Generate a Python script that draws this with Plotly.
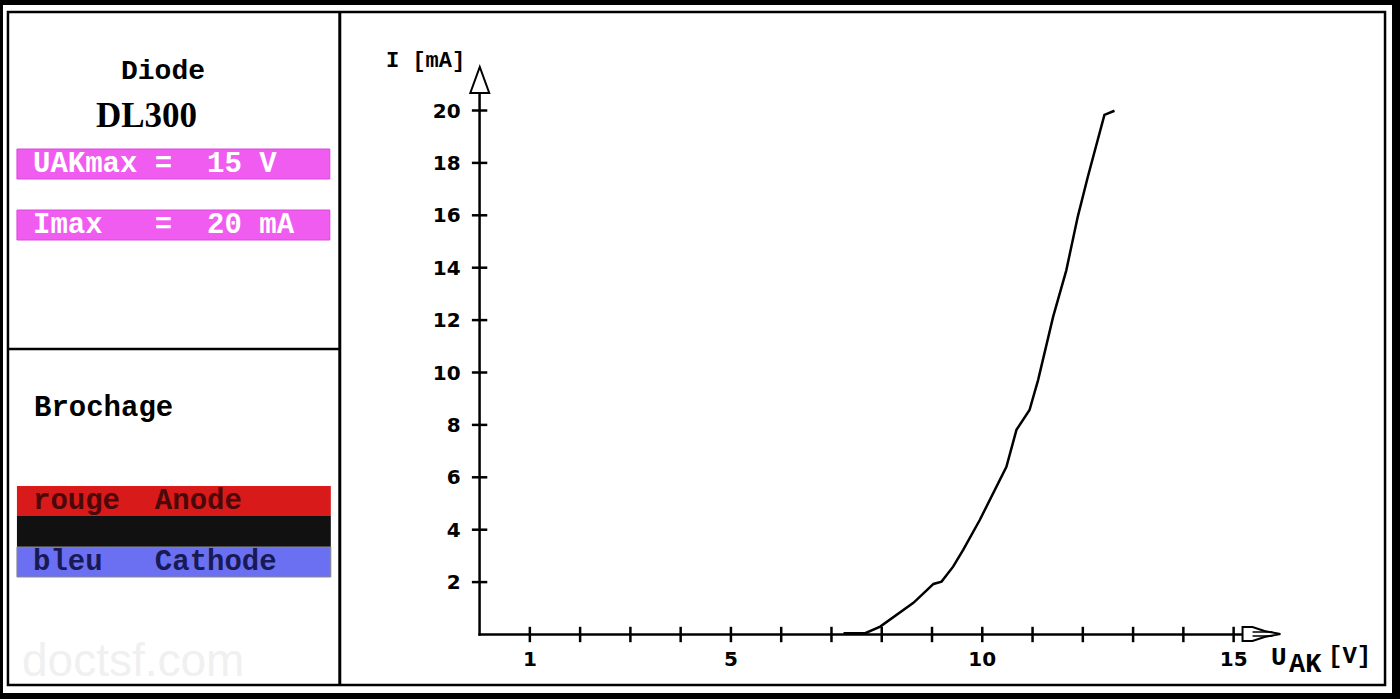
import plotly.graph_objects as go

# ---- data ----
u_ak = [7.24, 7.67, 7.97, 8.30, 8.63, 9.03, 9.19, 9.42, 9.62, 9.95, 10.22, 10.48,
        10.68, 10.94, 11.11, 11.41, 11.67, 11.90, 12.10, 12.30, 12.43, 12.63]
i_ma = [0.05, 0.05, 0.30, 0.74, 1.21, 1.93, 2.02, 2.59, 3.23, 4.37, 5.39, 6.40,
        7.81, 8.57, 9.71, 12.13, 13.89, 15.95, 17.47, 18.87, 19.83, 19.99]

x_tick_vals = [1, 5, 10, 15]
x_tick_text = ["1", "5", "10", "15"]
x_tick_marks = list(range(1, 16))
y_tick_vals = [2, 4, 6, 8, 10, 12, 14, 16, 18, 20]
y_tick_text = ["2", "4", "6", "8", "10", "12", "14", "16", "18", "20"]

# ---- geometry (pixels) ----
W, H = 1400, 699
def X(p): return p / W
def Y(p): return 1 - p / H

X0, XPV = 481.3, 50.45     # x pixel of 0 V, pixels per volt
Y0, YPM = 634.5, 26.2      # y pixel of 0 mA, pixels per mA
XR = 1247                  # right end of x axis line (arrow start)
YT = 93                    # top end of y axis line (arrow base)

fig = go.Figure()
fig.add_trace(go.Scatter(x=u_ak, y=i_ma, mode="lines",
                         line=dict(color="black", width=2.5),
                         cliponaxis=False, hoverinfo="skip", showlegend=False))
fig.add_trace(go.Scatter(x=x_tick_marks, y=[0] * len(x_tick_marks), mode="markers",
                         marker=dict(symbol="line-ns", size=11, color="black",
                                     line=dict(color="black", width=2.5)),
                         cliponaxis=False, hoverinfo="skip", showlegend=False))
fig.add_trace(go.Scatter(x=[0] * len(y_tick_vals), y=y_tick_vals, mode="markers",
                         marker=dict(symbol="line-ew", size=11, color="black",
                                     line=dict(color="black", width=2.5)),
                         cliponaxis=False, hoverinfo="skip", showlegend=False))

tickfont = dict(family="DejaVu Sans", size=20, color="black", weight="bold")

shapes = []
def rect(x0, y0, x1, y1, fill=None, lc="black", lw=0, layer="below"):
    shapes.append(dict(type="rect", xref="paper", yref="paper",
                       x0=X(x0), x1=X(x1), y0=Y(y1), y1=Y(y0),
                       fillcolor=fill if fill else "rgba(0,0,0,0)",
                       line=dict(color=lc, width=lw), layer=layer))
def line(x0, y0, x1, y1, lw=2.5, c="black", layer="below"):
    shapes.append(dict(type="line", xref="paper", yref="paper",
                       x0=X(x0), x1=X(x1), y0=Y(y0), y1=Y(y1),
                       line=dict(color=c, width=lw), layer=layer))
def path(pts, fill="white", lw=2):
    d = "M " + " L ".join(f"{X(a):.5f},{Y(b):.5f}" for a, b in pts) + " Z"
    shapes.append(dict(type="path", xref="paper", yref="paper", path=d,
                       fillcolor=fill, line=dict(color="black", width=lw), layer="above"))

# page background and frame
rect(3, 5, 1397, 693, fill="white")
rect(8, 12, 1390, 685, lc="black", lw=2.5)
line(341, 12, 341, 685, lw=3)
line(8, 349, 341, 349, lw=2.5)
# info boxes
rect(17, 149, 331, 179, fill="#f05cf0", lc="#d84ad8", lw=1)
rect(17, 210, 331, 240, fill="#f05cf0", lc="#d84ad8", lw=1)
rect(17, 486, 332, 516, fill="#d81a1a")
rect(17, 516, 332, 547, fill="#111111")
rect(17, 547, 332, 577, fill="#6b70f2", lc="#888888", lw=1)
# axis lines and arrows
line(X0, Y0 + 1.2, X0, YT, lw=2.5, layer="above")
line(X0 - 1.2, Y0, XR, Y0, lw=2.5, layer="above")
path([(472, 93), (491, 93), (481.5, 67)])
path([(1247, 627), (1257, 627), (1269, 631), (1285, 634), (1269, 637), (1257, 641), (1247, 641)])
line(1257, 632, 1277, 632, lw=1.5, layer="above")
line(1257, 636, 1277, 636, lw=1.5, layer="above")

annotations = []
def ann(text, x, y, size, color="black", family="Liberation Mono", weight="bold",
        xanchor="left"):
    annotations.append(dict(text=text, xref="paper", yref="paper", x=X(x), y=Y(y),
                            xanchor=xanchor, yanchor="middle", showarrow=False,
                            font=dict(family=family, size=size, color=color, weight=weight)))

NB = "\u00a0"
ann("doctsf.com", 20, 660, 46, color="#f0f0f0", family="Liberation Sans", weight="normal")
ann("Diode", 164, 72, 28, xanchor="center")
ann("DL300", 147, 115, 35, family="Liberation Serif", weight="bold", xanchor="center")
ann("UAKmax" + NB + "=" + NB * 2 + "15" + NB + "V", 31, 164, 29, color="white")
ann("Imax" + NB * 3 + "=" + NB * 2 + "20" + NB + "mA", 31, 225, 29, color="white")
ann("Brochage", 32, 408, 29)
ann("rouge" + NB * 2 + "Anode", 31, 501, 29, color="#4a0808")
ann("bleu" + NB * 3 + "Cathode", 31, 562, 29, color="#181a55")
ann("I" + NB + "[mA]", 427, 61, 22, xanchor="center")
ann("U", 1284, 658, 26, xanchor="center")
ann("AK", 1292, 665, 27)
ann("[V]", 1331, 656, 24)

fig.update_layout(
    width=W, height=H, autosize=False,
    margin=dict(l=0, r=0, t=0, b=0, pad=0),
    paper_bgcolor="black", plot_bgcolor="rgba(0,0,0,0)",
    showlegend=False,
    xaxis=dict(domain=[X(X0), X(XR)], range=[0, (XR - X0) / XPV],
               showgrid=False, zeroline=False, showline=False,
               tickmode="array", tickvals=x_tick_vals, ticktext=x_tick_text,
               ticks="outside", ticklen=6, tickcolor="rgba(0,0,0,0)", tickfont=tickfont,
               fixedrange=True),
    yaxis=dict(domain=[Y(Y0), Y(YT)], range=[0, (Y0 - YT) / YPM],
               showgrid=False, zeroline=False, showline=False,
               tickmode="array", tickvals=y_tick_vals, ticktext=y_tick_text,
               ticks="outside", ticklen=14, tickcolor="rgba(0,0,0,0)", tickfont=tickfont,
               fixedrange=True),
    shapes=shapes, annotations=annotations,
)

fig.write_html("out.html", config={"displayModeBar": False},
               post_script="document.body.style.margin='0';document.body.style.padding='0';"
                           "document.documentElement.style.overflow='hidden';")
